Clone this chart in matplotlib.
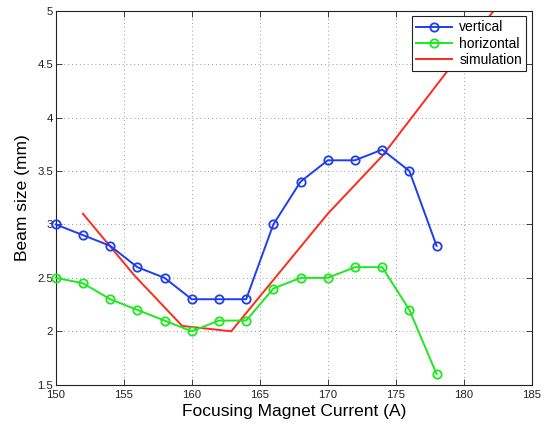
import matplotlib
matplotlib.use("Agg")
import matplotlib.pyplot as plt

plt.rcParams['font.family'] = ['Liberation Sans', 'DejaVu Sans']

# Measured beam size versus focusing magnet current
current = [150, 152, 154, 156, 158, 160, 162, 164, 166, 168, 170, 172, 174, 176, 178]
vertical = [3.0, 2.9, 2.8, 2.6, 2.5, 2.3, 2.3, 2.3, 3.0, 3.4, 3.6, 3.6, 3.7, 3.5, 2.8]
horizontal = [2.5, 2.45, 2.3, 2.2, 2.1, 2.0, 2.1, 2.1, 2.4, 2.5, 2.5, 2.6, 2.6, 2.2, 1.6]

# Simulated beam size
sim_current = [152, 155.8, 159.3, 162.9, 170, 174, 182.2]
sim_size = [3.1, 2.52, 2.05, 2.0, 3.1, 3.64, 5.0]

x_ticks = [150, 155, 160, 165, 170, 175, 180, 185]
y_ticks = [1.5, 2, 2.5, 3, 3.5, 4, 4.5, 5]

fig = plt.figure(figsize=(5.41, 4.25), dpi=100)
ax = fig.add_axes([0.103, 0.0948, 0.880, 0.880])

ax.plot(current, vertical, '-o', color='#1f3df0', lw=1.4, ms=6,
        mfc='none', mew=1.3, label='vertical', clip_on=False, zorder=3)
ax.plot(current, horizontal, '-o', color='#1ee81e', lw=1.4, ms=6,
        mfc='none', mew=1.3, label='horizontal', clip_on=False, zorder=3)
ax.plot(sim_current, sim_size, '-', color='#ff2a1a', lw=1.4,
        label='simulation', zorder=2)

ax.set_xlim(150, 185)
ax.set_ylim(1.5, 5)
ax.set_xticks(x_ticks)
ax.set_yticks(y_ticks)
ax.set_xticklabels([str(t) for t in x_ticks])
ax.set_yticklabels(['1.5', '2', '2.5', '3', '3.5', '4', '4.5', '5'])

ax.grid(True, linestyle=(0, (1, 3)), color='#999999', linewidth=0.7)
ax.tick_params(direction='in', top=True, right=True, length=4,
               width=0.6, labelsize=8.2, colors='#222222')
ax.tick_params(axis='x', pad=4)
ax.tick_params(axis='y', pad=2)
for s in ax.spines.values():
    s.set_linewidth(0.8)
    s.set_color('#222222')

ax.set_xlabel('Focusing Magnet Current (A)', fontsize=12.5, labelpad=3)
ax.set_ylabel('Beam size (mm)', fontsize=12.5, labelpad=5)

leg = ax.legend(loc='upper right', fontsize=10, fancybox=False,
                framealpha=1, edgecolor='#222222', borderpad=0.3,
                handlelength=2.6, handletextpad=0.5, labelspacing=0.15,
                borderaxespad=0.4)
leg.get_frame().set_linewidth(0.8)

fig.savefig('out.png', dpi=100)
